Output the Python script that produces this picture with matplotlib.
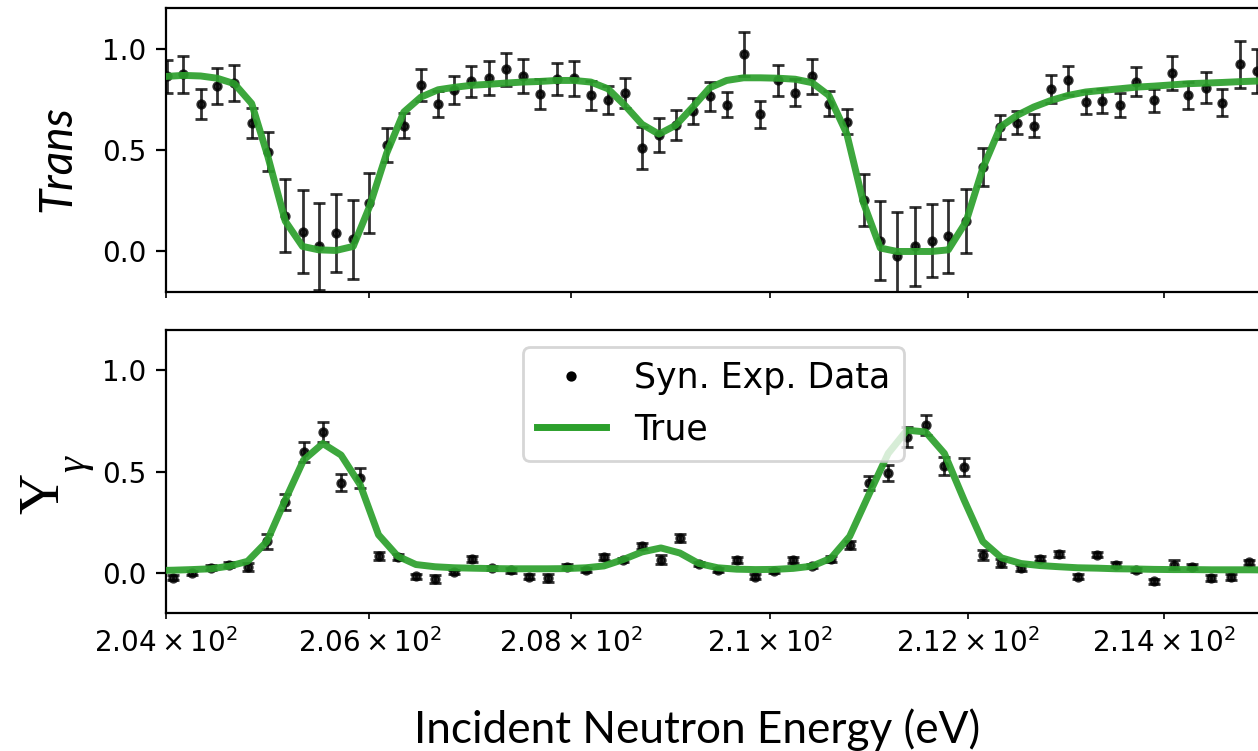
import matplotlib
matplotlib.use("Agg")
import matplotlib.pyplot as plt
from matplotlib.lines import Line2D

# ---------------- data ----------------
energy_trans = [204.01, 204.17, 204.34, 204.50, 204.67, 204.84, 205.00, 205.17, 205.34, 205.50,
                205.67, 205.84, 206.00, 206.17, 206.34, 206.51, 206.68, 206.84, 207.01, 207.18,
                207.35, 207.52, 207.69, 207.86, 208.03, 208.20, 208.37, 208.54, 208.71, 208.88,
                209.05, 209.22, 209.39, 209.56, 209.73, 209.90, 210.08, 210.25, 210.42, 210.59,
                210.77, 210.94, 211.11, 211.28, 211.46, 211.63, 211.80, 211.98, 212.15, 212.33,
                212.50, 212.67, 212.85, 213.02, 213.20, 213.37, 213.55, 213.72, 213.90, 214.08,
                214.25, 214.43, 214.60, 214.78, 214.96]

trans_data = [0.864, 0.874, 0.730, 0.815, 0.831, 0.634, 0.492, 0.176, 0.098, 0.025,
              0.093, 0.061, 0.241, 0.525, 0.620, 0.823, 0.730, 0.798, 0.839, 0.855,
              0.898, 0.865, 0.775, 0.851, 0.855, 0.770, 0.746, 0.782, 0.511, 0.574,
              0.623, 0.692, 0.765, 0.725, 0.975, 0.677, 0.844, 0.784, 0.864, 0.730,
              0.641, 0.254, 0.054, -0.021, 0.025, 0.054, 0.074, 0.152, 0.418, 0.615,
              0.636, 0.620, 0.803, 0.844, 0.736, 0.742, 0.725, 0.838, 0.746, 0.882,
              0.770, 0.808, 0.734, 0.923, 0.890]

trans_err = [0.082, 0.090, 0.074, 0.088, 0.088, 0.076, 0.096, 0.180, 0.203, 0.215,
             0.193, 0.195, 0.148, 0.083, 0.062, 0.079, 0.064, 0.069, 0.078, 0.084,
             0.083, 0.083, 0.074, 0.081, 0.086, 0.070, 0.070, 0.074, 0.103, 0.085,
             0.073, 0.065, 0.071, 0.062, 0.110, 0.068, 0.075, 0.066, 0.086, 0.062,
             0.061, 0.130, 0.195, 0.218, 0.193, 0.179, 0.180, 0.158, 0.093, 0.060,
             0.055, 0.056, 0.069, 0.072, 0.057, 0.060, 0.059, 0.071, 0.056, 0.084,
             0.065, 0.077, 0.066, 0.117, 0.110]

trans_true = [0.864, 0.869, 0.866, 0.855, 0.828, 0.730, 0.467, 0.150, 0.025, 0.008,
              0.005, 0.025, 0.220, 0.484, 0.688, 0.762, 0.798, 0.810, 0.820, 0.825,
              0.831, 0.836, 0.839, 0.844, 0.844, 0.836, 0.803, 0.721, 0.628, 0.579,
              0.623, 0.713, 0.808, 0.844, 0.857, 0.857, 0.855, 0.850, 0.833, 0.770,
              0.582, 0.239, 0.017, 0.000, 0.000, 0.000, 0.008, 0.147, 0.410, 0.615,
              0.672, 0.713, 0.746, 0.770, 0.787, 0.795, 0.803, 0.811, 0.816, 0.822,
              0.828, 0.831, 0.834, 0.838, 0.841]

energy_cap_true = [203.89, 204.07, 204.25, 204.44, 204.62, 204.80, 204.99, 205.17, 205.35, 205.54,
                   205.72, 205.91, 206.09, 206.28, 206.46, 206.65, 206.84, 207.02, 207.21, 207.40,
                   207.58, 207.77, 207.96, 208.15, 208.33, 208.52, 208.71, 208.90, 209.09, 209.28,
                   209.47, 209.66, 209.85, 210.04, 210.23, 210.42, 210.61, 210.80, 211.00, 211.19,
                   211.38, 211.57, 211.76, 211.96, 212.15, 212.34, 212.54, 212.73, 212.93, 213.12,
                   213.32, 213.51, 213.71, 213.90, 214.10, 214.29, 214.49, 214.69, 214.88, 215.08]

cap_true = [0.011, 0.013, 0.016, 0.020, 0.033, 0.057, 0.155, 0.360, 0.557, 0.639,
            0.582, 0.434, 0.188, 0.082, 0.041, 0.030, 0.025, 0.023, 0.021, 0.020,
            0.020, 0.020, 0.021, 0.025, 0.034, 0.065, 0.103, 0.123, 0.098, 0.046,
            0.025, 0.018, 0.016, 0.017, 0.022, 0.033, 0.072, 0.180, 0.393, 0.590,
            0.705, 0.696, 0.590, 0.360, 0.155, 0.074, 0.046, 0.036, 0.030, 0.025,
            0.023, 0.020, 0.019, 0.017, 0.016, 0.016, 0.015, 0.015, 0.015, 0.014]

energy_cap = [204.07, 204.25, 204.44, 204.62, 204.80, 204.99, 205.17, 205.35, 205.54,
              205.72, 205.91, 206.09, 206.28, 206.46, 206.65, 206.84, 207.02, 207.21, 207.40,
              207.58, 207.77, 207.96, 208.15, 208.33, 208.52, 208.71, 208.90, 209.09, 209.28,
              209.47, 209.66, 209.85, 210.04, 210.23, 210.42, 210.61, 210.80, 211.00, 211.19,
              211.38, 211.57, 211.76, 211.96, 212.15, 212.34, 212.54, 212.73, 212.93, 213.12,
              213.32, 213.51, 213.71, 213.90, 214.10, 214.29, 214.49, 214.69, 214.88]

cap_data = [-0.025, -0.003, 0.025, 0.041, 0.030, 0.155, 0.352, 0.598, 0.696, 0.446,
            0.467, 0.085, 0.079, -0.017, -0.030, 0.003, 0.069, 0.025, 0.013, -0.020,
            -0.025, 0.030, 0.016, 0.079, 0.065, 0.134, 0.065, 0.172, 0.044, 0.013,
            0.065, -0.020, 0.008, 0.065, 0.033, 0.070, 0.136, 0.442, 0.495, 0.672,
            0.729, 0.527, 0.524, 0.090, 0.049, 0.025, 0.069, 0.095, -0.020, 0.090,
            0.041, 0.013, -0.041, 0.041, 0.030, -0.025, -0.020, 0.052]

cap_err = [0.012, 0.010, 0.012, 0.012, 0.020, 0.035, 0.040, 0.048, 0.050, 0.040,
           0.050, 0.020, 0.015, 0.012, 0.020, 0.010, 0.015, 0.010, 0.012, 0.012,
           0.020, 0.012, 0.010, 0.015, 0.010, 0.015, 0.022, 0.022, 0.010, 0.010,
           0.015, 0.012, 0.010, 0.015, 0.010, 0.015, 0.020, 0.035, 0.040, 0.050,
           0.050, 0.045, 0.045, 0.025, 0.020, 0.015, 0.012, 0.015, 0.012, 0.012,
           0.012, 0.010, 0.012, 0.020, 0.012, 0.015, 0.015, 0.012]

x_limits = (204.0, 215.0)
y_limits = (-0.2, 1.2)
y_ticks = [0.0, 0.5, 1.0]
legend_labels = ["Syn. Exp. Data", "True"]

GREEN = "#2ca02c"

# ---------------- figure ----------------
W, H = 1258, 751
fig = plt.figure(figsize=(W / 200, H / 200), dpi=200)

left = 166 / W
width = (1261 - 166) / W
ax1 = fig.add_axes([left, 1 - 292 / H, width, (292 - 8.3) / H])
ax2 = fig.add_axes([left, 1 - 613.3 / H, width, (613.3 - 330) / H], sharex=ax1)

def draw(ax, ex, yd, ye, et, yt):
    ax.errorbar(ex, yd, yerr=ye, fmt='o', ms=2.7, color='k', ecolor='k',
                elinewidth=1.0, capsize=2, capthick=1.0, alpha=0.8, zorder=2)
    ax.plot(et, yt, color=GREEN, lw=2.5, alpha=0.92, zorder=3)
    ax.set_ylim(*y_limits)
    ax.set_yticks(y_ticks)
    ax.tick_params(labelsize=10)

draw(ax1, energy_trans, trans_data, trans_err, energy_trans, trans_true)
draw(ax2, energy_cap, cap_data, cap_err, energy_cap_true, cap_true)

ax1.set_xscale('log')
ax1.set_xlim(*x_limits)
ax1.tick_params(axis='x', which='both', labelbottom=False)

handles = [Line2D([], [], ls='none', marker='o', ms=2.7, color='k'),
           Line2D([], [], color=GREEN, lw=2.5)]
ax2.legend(handles, legend_labels, loc='upper center', fontsize=12.5)

fig.text(57 / W, 1 - 158 / H, 'Trans', family='Lato', style='italic',
         fontsize=16.5, rotation=90, ha='center', va='center')
fig.text(44 / W, 1 - 493 / H, 'Y', family='Liberation Serif',
         fontsize=20.5, rotation=90, ha='center', va='center')
fig.text(75 / W, 1 - 464 / H, 'γ', family='Liberation Serif', style='italic',
         fontsize=14.5, rotation=90, ha='center', va='center')
fig.text(697 / W, 1 - 730 / H, 'Incident Neutron Energy (eV)', family='Lato',
         fontsize=15.9, ha='center', va='center')

fig.savefig('out.png', dpi=200)
